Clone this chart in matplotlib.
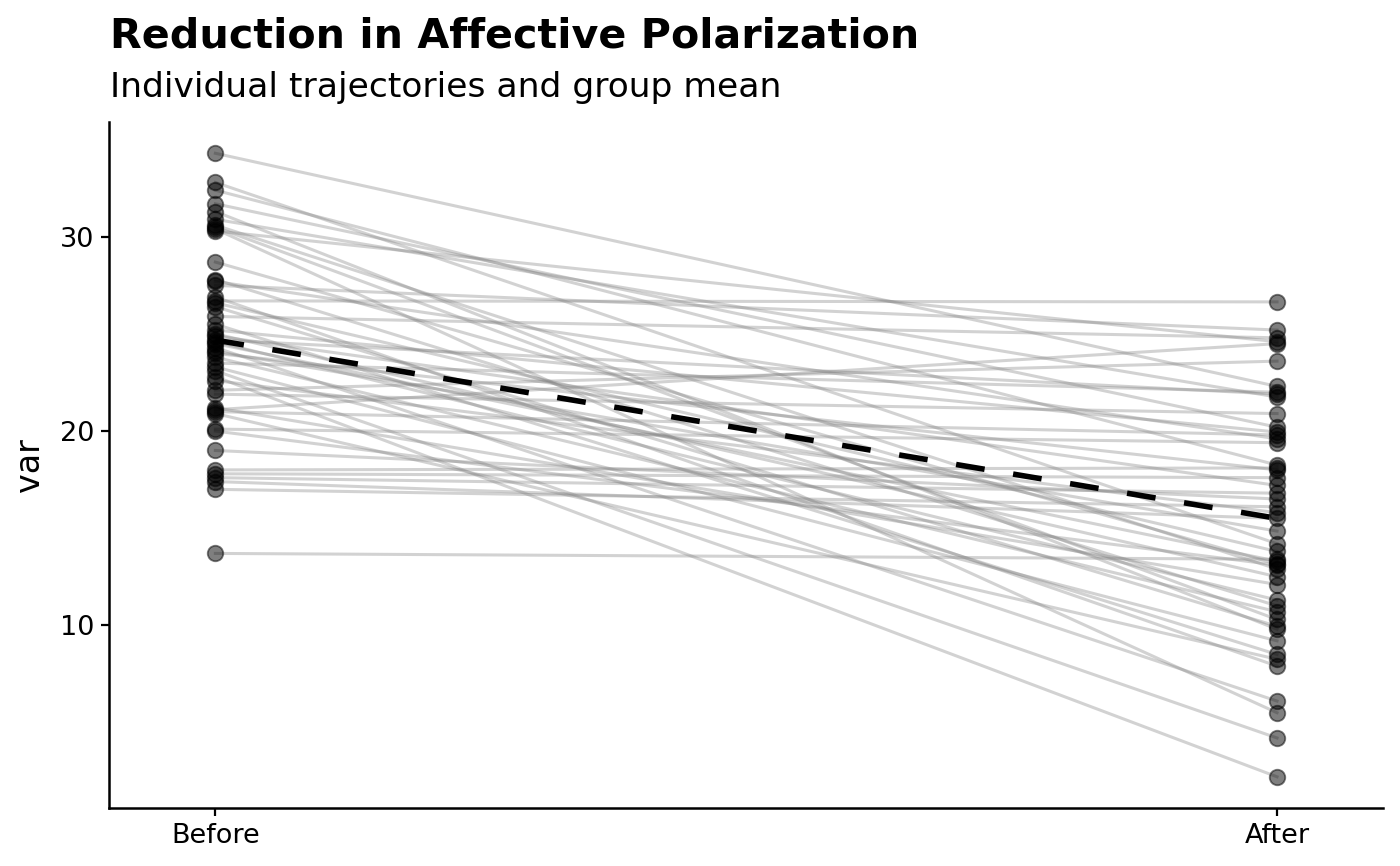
import numpy as np
import matplotlib.pyplot as plt

before = [34.3, 32.8, 32.4, 31.7, 31.3, 30.9, 30.6, 30.5, 30.4, 30.3,
          28.7, 27.8, 27.7, 27.5, 26.9, 26.7, 26.6, 26.4, 25.9, 25.5,
          25.2, 25.0, 24.9, 24.7, 24.6, 24.5, 24.3, 24.1, 24.0, 23.8,
          23.5, 23.3, 23.1, 22.8, 22.6, 22.1, 21.9, 21.2, 21.1, 21.0,
          20.9, 20.1, 20.0, 19.0, 18.0, 17.8, 17.6, 17.4, 17.0, 13.7]
after = [22.3, 14.2, 18.25, 20.2, 9.8, 21.75, 12.9, 10.3, 5.5, 24.6,
         13.15, 11.0, 19.6, 25.2, 7.9, 26.65, 13.8, 9.95, 24.8, 8.5,
         19.95, 12.5, 17.2, 21.9, 11.3, 13.3, 6.1, 14.85, 18.0, 10.7,
         22.0, 9.2, 4.2, 2.2, 15.8, 23.6, 20.9, 12.1, 24.5, 19.8,
         8.25, 19.4, 13.1, 16.5, 18.1, 17.6, 16.8, 15.5, 16.1, 13.4]
labels = ['Before', 'After']

before = np.array(before)
after = np.array(after)

fig = plt.figure(figsize=(14, 8.66), dpi=100)
ax = fig.add_axes([0.078, 0.067, 0.91, 0.792])

for b, a in zip(before, after):
    ax.plot([0, 1], [b, a], color='grey', alpha=0.35, lw=2.2, zorder=1)

ax.scatter(np.zeros(len(before)), before, s=125, color='black', alpha=0.5, lw=1.3, zorder=2)
ax.scatter(np.ones(len(after)), after, s=125, color='black', alpha=0.5, lw=1.3, zorder=2)

ax.plot([0, 1], [before.mean(), after.mean()], color='black', lw=4,
        dashes=(5.2, 5.2), zorder=3)

lo = min(before.min(), after.min())
hi = max(before.max(), after.max())
pad = (hi - lo) * 0.05
ax.set_ylim(lo - pad, hi + pad)
ax.set_xlim(-0.1, 1.1)
ax.set_xticks([0, 1])
ax.set_xticklabels(labels)
ax.set_yticks([10, 20, 30])
ax.tick_params(labelsize=19.5, length=6, width=1.6, colors='black', pad=5)
ax.set_ylabel('var', fontsize=24, labelpad=10)

for s in ['top', 'right']:
    ax.spines[s].set_visible(False)
for s in ['left', 'bottom']:
    ax.spines[s].set_linewidth(1.8)

fig.text(0.0786, 0.945, 'Reduction in Affective Polarization', fontsize=29.7,
         fontweight='bold', va='baseline')
fig.text(0.0786, 0.888, 'Individual trajectories and group mean', fontsize=24.8,
         va='baseline')

fig.savefig('out.png', dpi=100)
